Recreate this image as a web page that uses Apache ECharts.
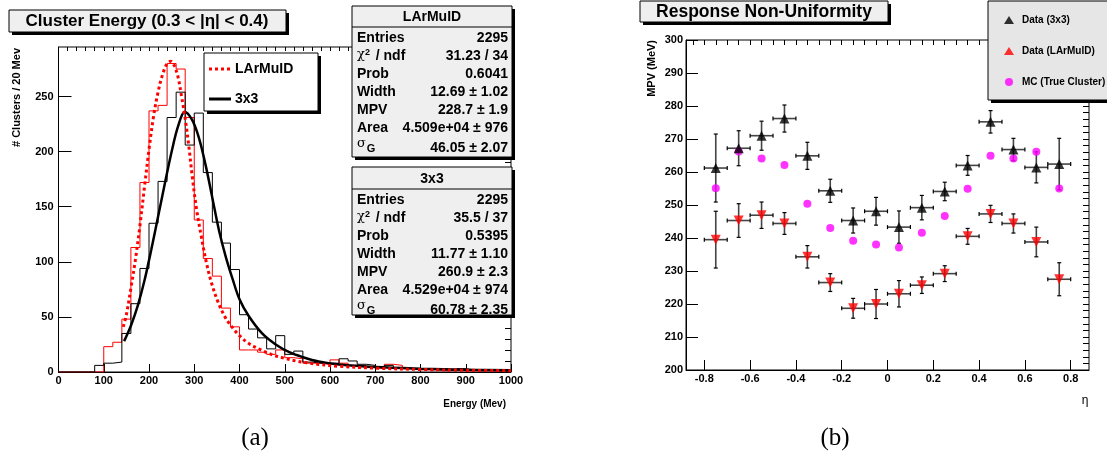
<!DOCTYPE html>
<html><head><meta charset="utf-8">
<script src="https://cdn.jsdelivr.net/npm/echarts@6/dist/echarts.min.js"></script>
<style>html,body{margin:0;padding:0;background:#fff}#c{width:1107px;height:460px}</style>
</head><body><div id="c"></div>
<script>
// ---------- Panel (a) data ----------
const binWidth = 20;
const energyMin = 0;
const larmuidCounts = [0,0,0,0,0,23,27,48,113,172,237,242,280,275,231,138,103,87,58,41,
  20,20,18,16,20,13,12,8,8,7,11,8,6,6,4,3,7,6,3,2,2,2,1,2,1,1,2,1,1,1];
const x3Counts = [0,0,0,0,6,8,9,35,62,94,135,173,231,254,206,235,181,136,117,93,
  52,39,31,21,33,16,19,9,8,8,8,12,10,7,6,4,6,4,3,2,3,2,2,1,3,2,1,2,1,1];
const larmuidFit = [[143,41],[150,52],[160,76],[170,102],[180,133],[190,168],[200,202],[210,232],
  [220,254],[230,270],[240,280],[248,282],[256,278],[264,268],[272,250],[280,230],[288,205],
  [296,176],[305,148],[316,122],[327,99],[338,81],[353,63],[368,50],[383,41],[400,33],[420,26],
  [445,20.5],[470,16],[500,12.4],[525,10],[550,8.3],[575,6.9],[620,5.2],[700,3.5],[800,2.3],
  [900,1.6],[1000,1.2]];
const x3Fit = [[145,28],[160,42],[175,60],[190,83],[205,111],[220,141],[235,171],[250,200],
  [265,224],[279,236],[295,229],[310,213],[325,188],[340,158],[355,128],[370,104],[385,84],
  [400,66],[420,51],[450,35],[480,25],[510,18],[540,13.5],[575,9.5],[620,6.8],[700,4.5],
  [800,3],[900,2],[1000,1.5]];
const energyTicks = [0,100,200,300,400,500,600,700,800,900,1000];
const energyMinorStep = 20;
const countTicks = [0,50,100,150,200,250];
const countMinorStep = 10;
const countMax = 295;
const legendA = ['LArMuID','3x3'];

const statNames = ['LArMuID','3x3'];
const statLabels = ['{b|Entries}','{g|χ}{sup|2}{b| / ndf}','{b|Prob}','{b|Width}','{b|MPV}','{b|Area}','{g|σ}{sub|G}'];
const statLArMuID = ['2295','31.23 / 34','0.6041','12.69 ± 1.02','228.7 ± 1.9','4.509e+04 ± 976','46.05 ± 2.07'];
const stat3x3 = ['2295','35.5 / 37','0.5395','11.77 ± 1.10','260.9 ± 2.3','4.529e+04 ± 974','60.78 ± 2.35'];

// ---------- Panel (b) data ----------
const etaBins = [-0.75,-0.65,-0.55,-0.45,-0.35,-0.25,-0.15,-0.05,0.05,0.15,0.25,0.35,0.45,0.55,0.65,0.75];
const etaHalfWidth = 0.05;
const mpv3x3 = [261.2,267.2,271.0,276.2,264.9,254.3,245.3,248.1,243.3,249.2,254.1,262.0,275.2,266.8,261.4,262.4];
const err3x3 = [10.3,5.3,4.4,4.1,4.1,3.5,3.8,4.2,4.9,3.7,2.8,3.0,3.4,3.4,4.7,7.8];
const mpvLAr = [239.5,245.3,246.9,244.4,234.3,226.5,218.7,220.0,223.1,225.7,229.2,240.5,247.3,244.4,238.8,227.5];
const errLAr = [8.6,5.1,4.0,3.3,3.4,2.7,3.0,4.4,4.0,2.5,2.4,2.4,2.6,2.9,4.5,5.0];
const mpvMC = [255.1,266.2,264.1,262.1,250.4,243.0,239.2,238.0,237.1,241.6,246.7,254.9,264.9,264.1,266.1,255.0];
const etaTicks = [-0.8,-0.6,-0.4,-0.2,0,0.2,0.4,0.6,0.8];
const etaMinorStep = 0.05;
const mpvTicks = [200,210,220,230,240,250,260,270,280,290,300];
const mpvMinorStep = 2;
const etaRange = [-0.88, 0.88];
const mpvRange = [200, 300];

// ---------- helpers ----------
const FONT = '"Liberation Sans", Arial, Helvetica, sans-serif';
const SERIF = '"Liberation Serif", "Times New Roman", serif';
function range(a, b, s){ const out=[]; const n=Math.round((b-a)/s); for(let i=0;i<=n;i++) out.push(+(a+i*s).toFixed(6)); return out; }
function stepData(counts){
  const d = counts.map((c,i)=>[energyMin + i*binWidth, c]);
  d.push([energyMin + counts.length*binWidth, counts[counts.length-1]]);
  return d;
}
const labelStyle = {color:'#000', fontFamily:FONT, fontWeight:'bold', fontSize:11};
function mainAxis(idx, min, max, ticks, tickLen, labelMargin, fmt){
  return {type:'value', gridIndex:idx, min:min, max:max, scale:true,
    axisLine:{show:true, onZero:false, lineStyle:{color:'#000', width:1}},
    axisTick:{show:true, inside:true, length:tickLen, customValues:ticks, lineStyle:{color:'#000', width:1}},
    axisLabel:{show:true, customValues:ticks, margin:labelMargin, formatter:fmt, ...labelStyle},
    splitLine:{show:false}, minorTick:{show:false}};
}
function minorAxis(idx, min, max, ticks, tickLen){
  return {type:'value', gridIndex:idx, min:min, max:max, scale:true,
    axisLine:{show:false, onZero:false},
    axisTick:{show:true, inside:true, length:tickLen, customValues:ticks, lineStyle:{color:'#000', width:1}},
    axisLabel:{show:false}, splitLine:{show:false}};
}
const etaFmt = v => { const r = Math.round(v*10)/10; return r === 0 ? '0' : String(r); };
const intFmt = v => String(Math.round(v));

function errRender(params, api){
  const x = api.value(0), y = api.value(1), e = api.value(2), ex = api.value(3);
  const c = api.coord([x, y]);
  const t = api.coord([x, y + e]), b = api.coord([x, y - e]);
  const l = api.coord([x - ex, y]), r = api.coord([x + ex, y]);
  const st = {stroke:'#444', lineWidth:1.6};
  const cs = {stroke:'#000', lineWidth:1.2};
  const cap = 2;
  return {type:'group', children:[
    {type:'line', shape:{x1:c[0], y1:t[1], x2:c[0], y2:b[1]}, style:st},
    {type:'line', shape:{x1:l[0], y1:c[1], x2:r[0], y2:c[1]}, style:st},
    {type:'line', shape:{x1:c[0]-cap, y1:t[1], x2:c[0]+cap, y2:t[1]}, style:cs},
    {type:'line', shape:{x1:c[0]-cap, y1:b[1], x2:c[0]+cap, y2:b[1]}, style:cs},
    {type:'line', shape:{x1:l[0], y1:c[1]-cap, x2:l[0], y2:c[1]+cap}, style:cs},
    {type:'line', shape:{x1:r[0], y1:c[1]-cap, x2:r[0], y2:c[1]+cap}, style:cs}
  ]};
}

// ---------- graphics (boxes, titles, stats) ----------
function txt(x, y, text, size, weight, align, family){
  return {type:'text', z:100, style:{x:x, y:y, text:text, fill:'#000',
    fontSize:size, fontWeight:weight||'bold', fontFamily:family||FONT,
    align:align||'center', textAlign:align||'center', verticalAlign:'middle', textVerticalAlign:'middle'}};
}
function vtxt(x, y, text, size){
  return {type:'text', z:100, x:x, y:y, rotation:Math.PI/2, style:{x:0, y:0, text:text, fill:'#000',
    fontSize:size, fontWeight:'bold', fontFamily:FONT,
    align:'right', textAlign:'right', verticalAlign:'middle', textVerticalAlign:'middle'}};
}
function boxWithShadow(x, y, w, h, fill, z){
  return [
    {type:'rect', z:z, shape:{x:x+3, y:y+3, width:w, height:h}, style:{fill:'#000'}},
    {type:'rect', z:z+1, shape:{x:x, y:y, width:w, height:h}, style:{fill:fill, stroke:'#000', lineWidth:1}}
  ];
}
const rich = {
  b:{fontFamily:FONT, fontWeight:'bold', fontSize:14, fill:'#000'},
  g:{fontFamily:'"DejaVu Serif", serif', fontSize:13, fill:'#000', verticalAlign:'top'},
  sup:{fontFamily:FONT, fontWeight:'bold', fontSize:9, fill:'#000', verticalAlign:'top', padding:[0,2,6,0]},
  sub:{fontFamily:FONT, fontWeight:'bold', fontSize:11, fill:'#000', verticalAlign:'bottom', padding:[6,0,0,1]}
};
function statBox(x, y, w, h, sepY, title, values, rowY0){
  const els = boxWithShadow(x, y, w, h, '#efefef', 60);
  els.push({type:'line', z:62, shape:{x1:x, y1:sepY, x2:x+w, y2:sepY}, style:{stroke:'#000', lineWidth:1}});
  els.push(txt(x + w/2, (y + sepY)/2 + 1, title, 14, 'bold', 'center'));
  statLabels.forEach((lab, i) => {
    els.push({type:'text', z:100, style:{x:x+5, y:rowY0 + i*18, text:lab, rich:rich,
      align:'left', textAlign:'left', verticalAlign:'middle', textVerticalAlign:'middle',
      fontFamily:FONT, fontWeight:'bold', fontSize:14, fill:'#000'}});
    els.push(txt(x + w - 4, rowY0 + i*18 + (i === 6 ? 2 : 0), values[i], 14, 'bold', 'right'));
  });
  return els;
}
function legendLine(x1, x2, y, color, dash, z){
  return {type:'line', z:z, shape:{x1:x1, y1:y, x2:x2, y2:y},
    style:{stroke:color, lineWidth:3, lineDash:dash}};
}

const graphics = [].concat(
  boxWithShadow(9, 10, 277, 22, '#efefef', 60),
  [txt(147, 21, 'Cluster Energy (0.3 < |η| < 0.4)', 17, 'bold', 'center')],
  boxWithShadow(204, 53, 114, 58, '#ffffff', 60),
  [legendLine(209, 231, 69, '#ff0000', [3,3], 100), txt(235, 69, legendA[0], 14, 'bold', 'left'),
   legendLine(209, 231, 99, '#000000', null, 100), txt(235, 99, legendA[1], 14, 'bold', 'left')],
  statBox(352, 6, 160, 151, 27, statNames[0], statLArMuID, 38),
  statBox(352, 167, 160, 148, 189, statNames[1], stat3x3, 200),
  [vtxt(17, 48, '# Clusters / 20 Mev', 11),
   txt(506, 404, 'Energy (Mev)', 10, 'bold', 'right'),
   txt(255, 438, '(a)', 25, 'normal', 'center', SERIF)],
  boxWithShadow(640, 1, 248, 21, '#efefef', 60),
  [txt(764, 12, 'Response Non-Uniformity', 17.5, 'bold', 'center')],
  boxWithShadow(988, 1, 130, 99, '#e6e6e6', 60),
  [vtxt(652, 40, 'MPV (MeV)', 11),
   txt(1085, 401, 'η', 12, 'normal', 'center'),
   txt(835, 438, '(b)', 25, 'normal', 'center', SERIF)]
);

const option = {
  animation:false,
  backgroundColor:'#ffffff',
  grid:[
    {left:58.5, top:47, width:452.5, height:325, show:true, borderColor:'#000', borderWidth:1, backgroundColor:'transparent'},
    {left:686, top:40, width:403, height:330, show:true, borderColor:'#000', borderWidth:1, backgroundColor:'transparent'}
  ],
  xAxis:[
    mainAxis(0, 0, 1000, energyTicks, 8, 3, intFmt),
    minorAxis(0, 0, 1000, range(0, 1000, energyMinorStep), 4),
    mainAxis(1, etaRange[0], etaRange[1], etaTicks, 10, 3, etaFmt),
    minorAxis(1, etaRange[0], etaRange[1], range(-0.85, 0.85, etaMinorStep), 5)
  ],
  yAxis:[
    mainAxis(0, 0, countMax, countTicks, 13, 5, intFmt),
    minorAxis(0, 0, countMax, range(0, 290, countMinorStep), 6),
    mainAxis(1, mpvRange[0], mpvRange[1], mpvTicks, 12, 3, intFmt),
    minorAxis(1, mpvRange[0], mpvRange[1], range(200, 300, mpvMinorStep), 6)
  ],
  legend:[
    {z:80, left:999, top:10, orient:'vertical', itemWidth:10, itemHeight:8, itemGap:21,
     data:['Data (3x3)','Data (LArMuID)','MC (True Cluster)'],
     textStyle:{fontFamily:FONT, fontWeight:'bold', fontSize:10, color:'#000', padding:[0,0,0,3]}, selectedMode:false}
  ],
  graphic:{elements:graphics},
  series:[
    {name:'hLAr', type:'line', xAxisIndex:0, yAxisIndex:0, step:'end', symbol:'none', data:stepData(larmuidCounts),
     lineStyle:{color:'#ff0000', width:1}, itemStyle:{color:'#ff0000'}, z:3, clip:true},
    {name:'h3x3', type:'line', xAxisIndex:0, yAxisIndex:0, step:'end', symbol:'none', data:stepData(x3Counts),
     lineStyle:{color:'#000', width:1}, itemStyle:{color:'#000'}, z:3, clip:true},
    {name:'3x3', type:'line', xAxisIndex:0, yAxisIndex:0, smooth:0.35, symbol:'none', data:x3Fit,
     lineStyle:{color:'#000', width:2.5}, itemStyle:{color:'#000'}, z:4, clip:true},
    {name:'LArMuID', type:'line', xAxisIndex:0, yAxisIndex:0, smooth:0.35, symbol:'none', data:larmuidFit,
     lineStyle:{color:'#ff0000', width:3, type:[3,3]}, itemStyle:{color:'#ff0000'}, z:5, clip:true},
    {name:'e3x3', type:'custom', xAxisIndex:2, yAxisIndex:2, renderItem:errRender, z:3,
     data:etaBins.map((e,i)=>[e, mpv3x3[i], err3x3[i], etaHalfWidth])},
    {name:'eLAr', type:'custom', xAxisIndex:2, yAxisIndex:2, renderItem:errRender, z:3,
     data:etaBins.map((e,i)=>[e, mpvLAr[i], errLAr[i], etaHalfWidth])},
    {name:'MC (True Cluster)', type:'scatter', xAxisIndex:2, yAxisIndex:2, symbol:'circle', symbolSize:8,
     itemStyle:{color:'#ff00ff'}, z:5, data:etaBins.map((e,i)=>[e, mpvMC[i]])},
    {name:'Data (3x3)', type:'scatter', xAxisIndex:2, yAxisIndex:2, symbol:'triangle', symbolSize:10,
     itemStyle:{color:'#000'}, z:5, data:etaBins.map((e,i)=>[e, mpv3x3[i]])},
    {name:'Data (LArMuID)', type:'scatter', xAxisIndex:2, yAxisIndex:2, symbol:'triangle', symbolRotate:180, symbolSize:10,
     itemStyle:{color:'#ff0000'}, z:5, data:etaBins.map((e,i)=>[e, mpvLAr[i]])}
  ]
};
const chart = echarts.init(document.getElementById('c'), null, {renderer:'canvas'});
chart.setOption(option);
</script></body></html>
